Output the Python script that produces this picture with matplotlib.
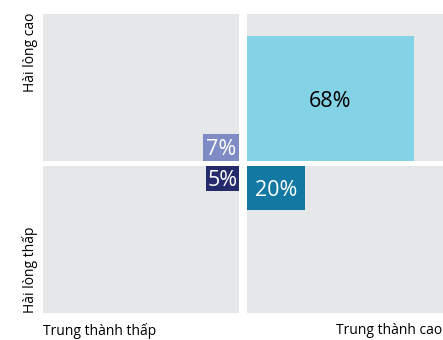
import matplotlib
matplotlib.use("Agg")
import matplotlib.pyplot as plt
from matplotlib.patches import Rectangle

# Data
labels = ["7%", "68%", "5%", "20%"]
values = [7, 68, 5, 20]
# quadrant: (x side, y side): -1 = low/left/bottom, +1 = high/right/top
quad_x = [-1, 1, -1, 1]
quad_y = [1, 1, -1, -1]
colors = ["#7F8BC5", "#84D2E6", "#252A6A", "#1379A3"]
text_colors = ["white", "black", "white", "white"]
y_labels = ["Hài lòng cao", "Hài lòng thấp"]
x_labels = ["Trung thành thấp", "Trung thành cao"]

plt.rcParams['font.family'] = ['Open Sans', 'DejaVu Sans']

W, H = 443, 340
fig = plt.figure(figsize=(W / 100, H / 100), dpi=100)
ax = fig.add_axes([43 / W, (H - 313) / H, 400 / W, 299 / H])
gx = 3.5 / 196
gy = 2.5 / 147
ax.set_xlim(-1 - gx, 1 + gx)
ax.set_ylim(-1 - gy, 1 + gy)
ax.axis("off")

panel = "#E6E7E9"
for sx in (-1, 1):
    for sy in (-1, 1):
        x0 = gx if sx > 0 else -1 - gx
        y0 = gy if sy > 0 else -1 - gy
        ax.add_patch(Rectangle((x0, y0), 1, 1, facecolor=panel, edgecolor="none"))

for lab, v, qx, qy, c, tc in zip(labels, values, quad_x, quad_y, colors, text_colors):
    side = 0.1311 + 0.007559 * v + 4.43e-5 * v * v
    x0 = gx if qx > 0 else -gx - side
    y0 = gy if qy > 0 else -gy - side
    ax.add_patch(Rectangle((x0, y0), side, side, facecolor=c, edgecolor="none"))
    ax.text(x0 + side / 2, y0 + side / 2, lab, color=tc, fontsize=15.5,
            ha="center", va="center_baseline")

fig.text(30 / W, (H - 13) / H, y_labels[0], rotation=90, ha="center", va="top", fontsize=10)
fig.text(30 / W, (H - 313) / H, y_labels[1], rotation=90, ha="center", va="bottom", fontsize=10)
fig.text(43 / W, (H - 331) / H, x_labels[0], ha="left", va="center", fontsize=10)
fig.text(442 / W, (H - 331) / H, x_labels[1], ha="right", va="center", fontsize=10)

fig.savefig("out.png", dpi=100)
